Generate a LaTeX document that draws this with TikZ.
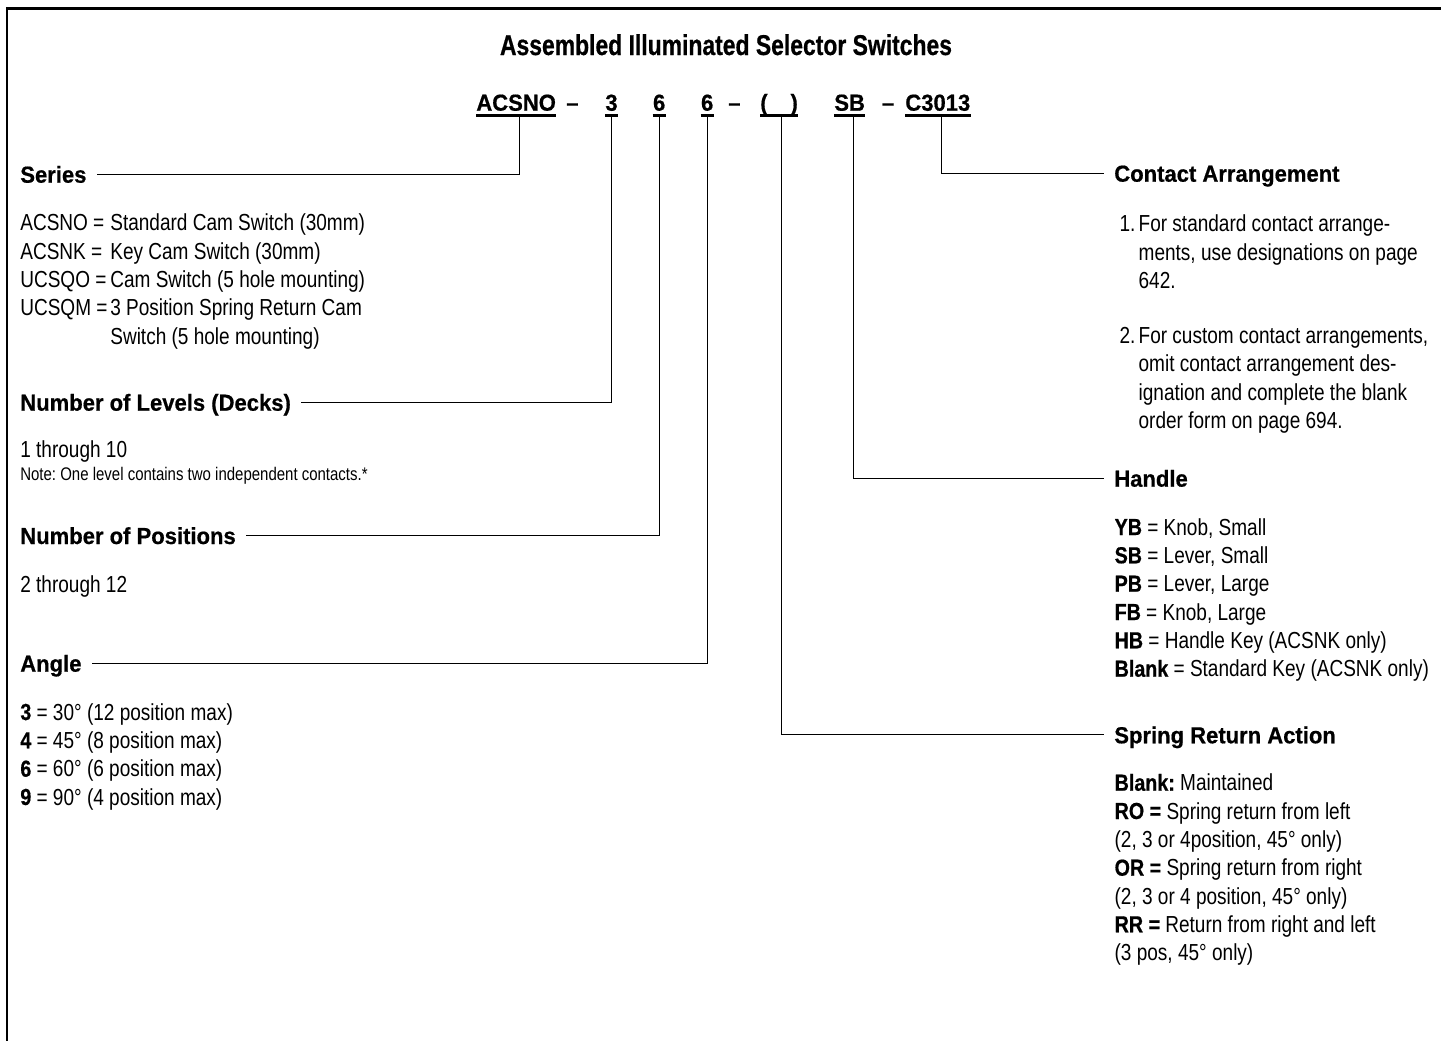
\documentclass[tikz,border=0pt]{standalone}
\usepackage{fontspec}
\setmainfont{Liberation Sans}[FakeStretch=0.82]
\newfontfamily\headfont{Liberation Sans}[FakeStretch=0.95, FakeBold=0.6]
\newfontfamily\keyfont{Liberation Sans}[FakeStretch=0.85, FakeBold=0.6]
\newfontfamily\titlefont{Liberation Sans}[FakeStretch=0.8, FakeBold=0.6]
\newcommand\kw[1]{{\keyfont\bfseries #1}}
\frenchspacing

\begin{document}
\begin{tikzpicture}[x=0.02cm, y=-0.02cm,
  txt/.style={anchor=base west, inner sep=0pt, font=\fontsize{13.2}{16}\selectfont},
  small/.style={anchor=base west, inner sep=0pt, font=\fontsize{10.4}{12}\selectfont},
  head/.style={anchor=base west, inner ysep=0pt, inner xsep=5.67pt, text height=9.5pt, text depth=0pt,
    font=\headfont\bfseries\fontsize{13.2}{16}\selectfont},
  code/.style={anchor=base west, inner sep=0pt, font=\headfont\bfseries\fontsize{13.2}{16}\selectfont},
  lead/.style={line width=0.6pt},
  uline/.style={line width=1.3pt}]
  \useasboundingbox (0,0) rectangle (1441,1041);

  % Frame
  \draw[line width=1.55pt] (7,1050) -- (7,8.7) -- (1450,8.7);

  % Title
  \node[anchor=base, inner sep=0pt, font=\titlefont\bfseries\fontsize{16.3}{19}\selectfont]
    (title) at (726,55) {Assembled Illuminated Selector Switches};

  % Catalogue number
  \node[code] (acsno) at (476,110.7) {ACSNO};
  \node[code] (d1) at (566,110.7) {–};
  \node[code] (lvl) at (605,110.7) {3};
  \node[code] (pos) at (652.7,110.7) {6};
  \node[code] (ang) at (700.7,110.7) {6};
  \node[code] (d2) at (728,110.7) {–};
  \node[code] (spr) at (760,110.7) {(\hspace{13pt})};
  \node[code] (hdl) at (834,110.7) {SB};
  \node[code] (d3) at (881.7,110.7) {–};
  \node[code] (cnt) at (905,110.7) {C3013};
  \foreach \n in {acsno,lvl,pos,ang,spr,hdl,cnt}
    \draw[uline] ([yshift=-2.8pt]\n.base west) -- ([yshift=-2.8pt]\n.base east);

  % Headings
  \node[head] (series) at (10,182.7) {Series};
  \node[head] (levels) at (10,410.7) {Number of Levels (Decks)};
  \node[head] (positions) at (10,544) {Number of Positions};
  \node[head] (angle) at (10,671.7) {Angle};
  \node[head] (contact) at (1104,181.7) {Contact Arrangement};
  \node[head] (handle) at (1104,486.7) {Handle};
  \node[head] (spring) at (1104,743.3) {Spring Return Action};

  % Leaders
  \draw[lead] ([xshift=1.8pt,yshift=-2.8pt]acsno.base) |- (series.east);
  \draw[lead] ([yshift=-2.8pt]lvl.base) |- (levels.east);
  \draw[lead] ([yshift=-2.8pt]pos.base) |- (positions.east);
  \draw[lead] ([yshift=-2.8pt]ang.base) |- (angle.east);
  \draw[lead] ([xshift=1.5pt,yshift=-2.8pt]spr.base) |- (spring.west);
  \draw[lead] ([xshift=2.1pt,yshift=-2.8pt]hdl.base) |- (handle.west);
  \draw[lead] ([xshift=2.3pt,yshift=-2.8pt]cnt.base) |- (contact.west);

  % Series
  \foreach \y/\a/\b [count=\i] in {230.7/ACSNO =/{Standard Cam Switch (30mm)},
      259/ACSNK =/{Key Cam Switch (30mm)}, 287.3/UCSQO =/{Cam Switch (5 hole mounting)},
      315.7/UCSQM =/{3 Position Spring Return Cam}, 344//{Switch (5 hole mounting)}} {
    \node[txt] (ser\i a) at (20,\y) {\a};
    \node[txt] (ser\i b) at (110,\y) {\b};
  }

  % Levels and positions
  \node[txt] (lev1) at (20,457) {1 through 10};
  \node[small] (lev2) at (20,480.7) {Note: One level contains two independent contacts.*};
  \node[txt] (pos1) at (20,592.3) {2 through 12};

  % Angle
  \foreach \y/\t [count=\i] in {720/{\kw{3} = 30° (12 position max)}, 748.3/{\kw{4} = 45° (8 position max)},
      776.7/{\kw{6} = 60° (6 position max)}, 805/{\kw{9} = 90° (4 position max)}}
    \node[txt] (ang\i) at (20,\y) {\t};

  % Contact arrangement
  \node[txt] (cn1) at (1119.3,231.7) {1.};
  \node[txt] (cn2) at (1119.3,343.3) {2.};
  \foreach \y/\t [count=\i] in {231.7/{For standard contact arrange-}, 260/{ments, use designations on page},
      288.3/{642.}, 343.3/{For custom contact arrangements,}, 371.7/{omit contact arrangement des-},
      400/{ignation and complete the blank}, 428.3/{order form on page 694.}}
    \node[txt] (cnt\i) at (1138.3,\y) {\t};

  % Handle
  \foreach \y/\t [count=\i] in {535/{\kw{YB} = Knob, Small}, 563.3/{\kw{SB} = Lever, Small},
      591.7/{\kw{PB} = Lever, Large}, 620/{\kw{FB} = Knob, Large},
      648.3/{\kw{HB} = Handle Key (ACSNK only)}, 676.7/{\kw{Blank} = Standard Key (ACSNK only)}}
    \node[txt] (hdl\i) at (1114.3,\y) {\t};

  % Spring return
  \foreach \y/\t [count=\i] in {790.7/{\kw{Blank:} Maintained}, 819/{\kw{RO =} Spring return from left},
      847.3/{(2, 3 or 4position, 45° only)}, 875.7/{\kw{OR =} Spring return from right},
      904/{(2, 3 or 4 position, 45° only)}, 932.3/{\kw{RR =} Return from right and left},
      960.7/{(3 pos, 45° only)}}
    \node[txt] (spr\i) at (1114.3,\y) {\t};
\end{tikzpicture}
\end{document}
